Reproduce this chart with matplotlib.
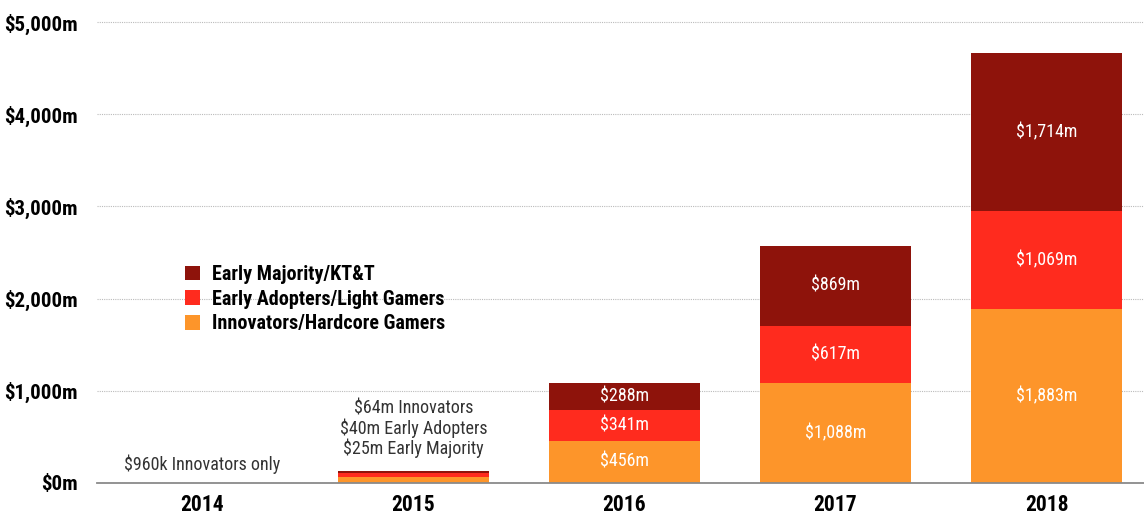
import matplotlib
matplotlib.use("Agg")
import matplotlib.pyplot as plt
from matplotlib.patches import Patch
from matplotlib import font_manager
import numpy as np

years = ["2014", "2015", "2016", "2017", "2018"]
innovators = [0.96, 64, 456, 1088, 1883]
early_adopters = [0, 40, 341, 617, 1069]
early_majority = [0, 25, 288, 869, 1714]
labels_innov = ["", "", "$456m", "$1,088m", "$1,883m"]
labels_adopt = ["", "", "$341m", "$617m", "$1,069m"]
labels_major = ["", "", "$288m", "$869m", "$1,714m"]
series_names = ["Early Majority/KT&T", "Early Adopters/Light Gamers", "Innovators/Hardcore Gamers"]
yticks = [0, 1000, 2000, 3000, 4000, 5000]
ytick_labels = ["$0m", "$1,000m", "$2,000m", "$3,000m", "$4,000m", "$5,000m"]
note_2014 = "$960k Innovators only"
note_2015 = "$64m Innovators\n$40m Early Adopters\n$25m Early Majority"

c_major = "#8E130B"
c_adopt = "#FF2B1E"
c_innov = "#FD952A"

names = {f.name for f in font_manager.fontManager.ttflist}
cands = ["Liberation Sans Narrow", "Roboto Condensed", "Open Sans Condensed", "DejaVu Sans Condensed"]
chosen = [c for c in cands if c in names]
FONT = chosen[:1] + ["DejaVu Sans"]
plt.rcParams["font.family"] = FONT
plt.rcParams["font.stretch"] = "condensed"

W, H = 1144, 517
fig = plt.figure(figsize=(W / 100, H / 100), dpi=100)
ax_left, ax_right = 97, 1152
ax_bottom, ax_top = 483, 3.6
ax = fig.add_axes([ax_left / W, (H - ax_bottom) / H, (ax_right - ax_left) / W, (ax_bottom - ax_top) / H])

x = np.arange(len(years))
bw = 0.716
inn = np.array(innovators)
ado = np.array(early_adopters)
maj = np.array(early_majority)
ax.bar(x, inn, bw, color=c_innov, zorder=3)
ax.bar(x, ado, bw, bottom=inn, color=c_adopt, zorder=3)
ax.bar(x, maj, bw, bottom=inn + ado, color=c_major, zorder=3)

for i in range(len(years)):
    for val, bot, lab in ((inn[i], 0, labels_innov[i]), (ado[i], inn[i], labels_adopt[i]), (maj[i], inn[i] + ado[i], labels_major[i])):
        if lab:
            ax.text(x[i], bot + val / 2, lab, ha="center", va="center", color="white",
                    fontsize=13, stretch="condensed", zorder=4)

ax.text(x[0], 205, note_2014, ha="center", va="center", fontsize=13, color="#333333", stretch="condensed")
ax.text(x[1], 590, note_2015, ha="center", va="center", fontsize=13, color="#333333",
        linespacing=1.05, stretch="condensed")

ax.set_xlim(-0.5, 4.5)
ax.set_ylim(0, 5200)
ax.set_yticks(yticks)
ax.set_yticklabels(ytick_labels, fontsize=15, fontweight="bold", stretch="condensed")
ax.set_xticks(x)
ax.set_xticklabels(years, fontsize=15.5, fontweight="bold", stretch="condensed")
ax.tick_params(axis="both", length=0)
ax.tick_params(axis="y", pad=14)
ax.tick_params(axis="x", pad=8)
for s in ["top", "right", "left"]:
    ax.spines[s].set_visible(False)
ax.spines["bottom"].set_color("#8a8a8a")
ax.spines["bottom"].set_linewidth(1.3)
ax.spines["bottom"].set_zorder(5)
ax.yaxis.grid(True, linestyle=(0, (1, 1)), color="#bbbbbb", linewidth=0.8, zorder=0)
ax.set_axisbelow(True)

handles = [Patch(facecolor=c_major), Patch(facecolor=c_adopt), Patch(facecolor=c_innov)]
leg = ax.legend(handles, series_names, loc="upper left",
                bbox_to_anchor=((171 - ax_left) / (ax_right - ax_left), (ax_bottom - 251) / (ax_bottom - ax_top)),
                frameon=False, prop={"family": FONT, "weight": "bold", "size": 14.5, "stretch": "condensed"},
                handlelength=0.75, handleheight=0.75, handletextpad=0.6, labelspacing=0.28,
                borderpad=0.2)

fig.savefig("out.png", dpi=100, facecolor="white")
